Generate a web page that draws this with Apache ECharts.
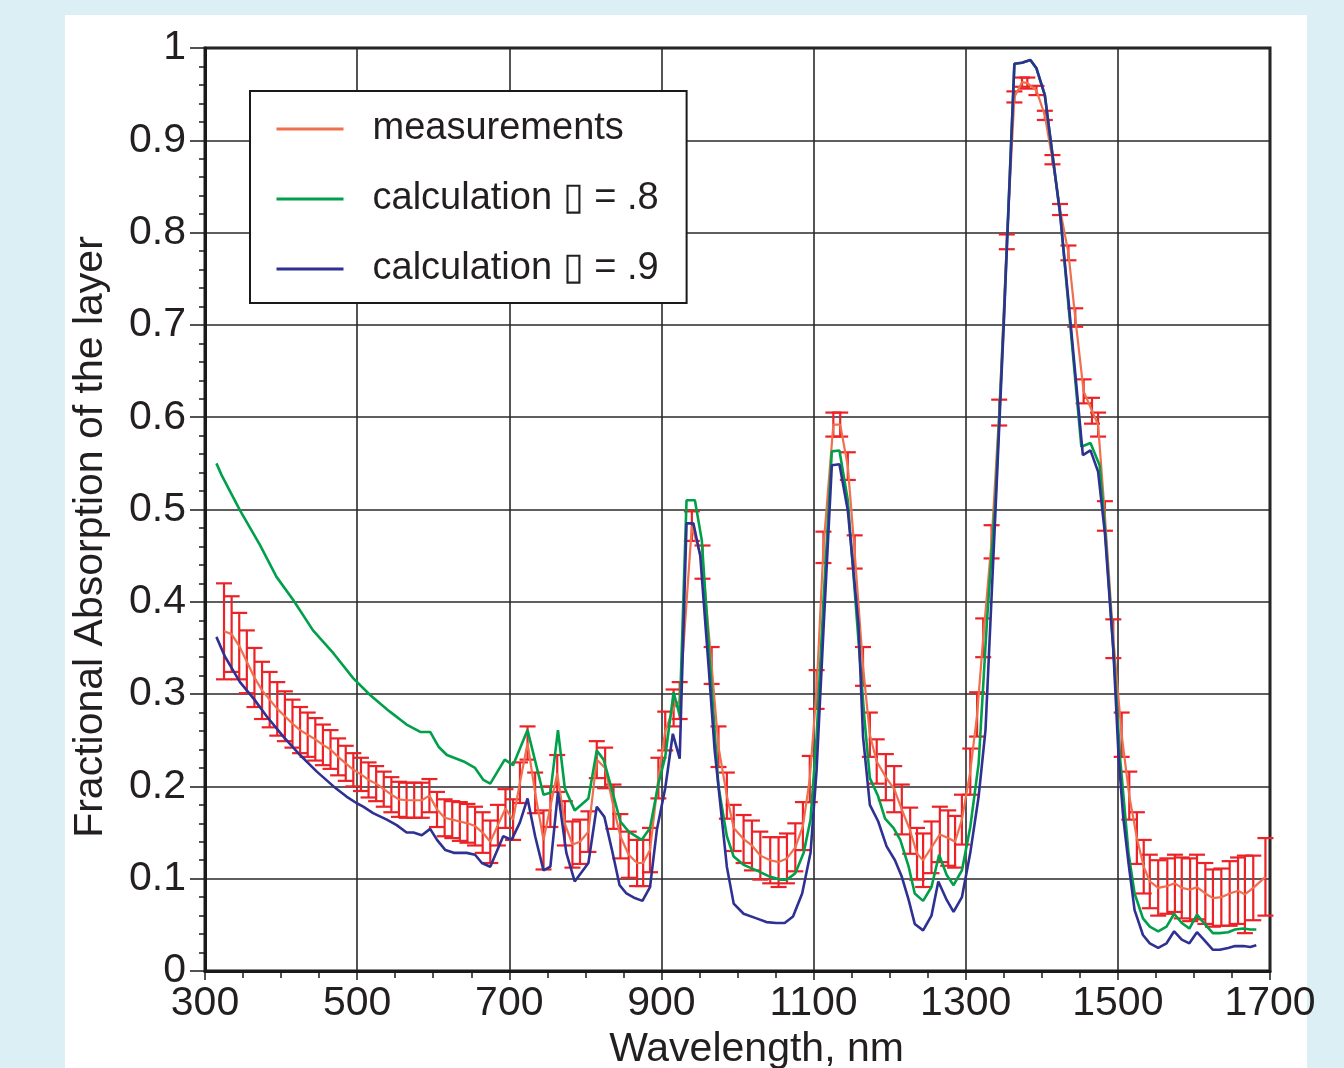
<!DOCTYPE html>
<html>
<head>
<meta charset="utf-8">
<script src="https://cdn.jsdelivr.net/npm/echarts@6/dist/echarts.min.js"></script>
<style>
  html, body { margin: 0; padding: 0; background: #DCEFF5; }
  #panel { position: absolute; left: 65px; top: 15px; width: 1242px; height: 1053px; background: #ffffff; }
  #chart { position: absolute; left: 0; top: 0; width: 1344px; height: 1068px; }
</style>
</head>
<body>
<div id="panel"></div>
<div id="chart"></div>
<script>
// ---- axis settings ----
const xMin = 300, xMax = 1700, xStep = 200;
const yMin = 0, yMax = 1, yStep = 0.1;

// ---- measurements (wavelength nm, mean, half error) ----
const measWl = [
  325,335,345,355,365,375,385,395,405,415,
  425,435,445,455,465,475,485,495,505,515,
  525,535,545,555,565,575,585,595,605,615,
  625,635,645,655,665,675,685,695,705,714,
  724,734,745,754,763,773,783,793,804,815,
  826,837,846,857,868,876,885,896,905,916,
  924,940,954,966,975,986,995,1008,1019,1030,
  1043,1054,1065,1076,1086,1095,1104,1113,1126,1135,
  1145,1154,1165,1174,1183,1195,1206,1216,1227,1236,
  1244,1255,1266,1277,1286,1295,1306,1315,1323,1334,
  1344,1354,1364,1374,1381,1393,1404,1414,1424,1435,
  1444,1455,1466,1474,1483,1494,1505,1515,1525,1534,
  1542,1553,1565,1575,1584,1595,1604,1615,1625,1636,
  1647,1658,1667,1678,1694
];
const measVal = [
  .368,.365,.352,.335,.318,.304,.294,.284,.276,.268,
  .261,.256,.251,.245,.240,.232,.225,.218,.213,.207,
  .203,.197,.191,.186,.185,.185,.185,.190,.175,.166,
  .164,.162,.160,.157,.150,.140,.158,.176,.164,.204,
  .247,.193,.142,.178,.214,.160,.137,.140,.151,.229,
  .220,.178,.146,.126,.117,.117,.131,.209,.260,.285,
  .293,.482,.443,.331,.243,.190,.155,.143,.136,.125,
  .120,.118,.122,.134,.157,.208,.305,.459,.592,.592,
  .547,.454,.330,.256,.227,.210,.197,.175,.152,.127,
  .120,.134,.148,.144,.140,.164,.216,.278,.361,.465,
  .605,.790,.947,.963,.962,.954,.927,.879,.825,.778,
  .708,.628,.607,.592,.493,.360,.256,.190,.144,.113,
  .097,.090,.092,.095,.090,.088,.091,.084,.079,.080,
  .084,.087,.083,.090,.102
];
const measErr = [
  .052,.041,.036,.034,.032,.031,.030,.029,.027,.026,
  .025,.024,.023,.022,.021,.020,.019,.018,.018,.019,
  .019,.019,.019,.019,.019,.019,.019,.018,.019,.020,
  .020,.021,.021,.021,.022,.023,.022,.021,.022,.022,
  .018,.022,.032,.022,.020,.024,.025,.024,.022,.020,
  .022,.024,.024,.025,.025,.025,.024,.022,.021,.020,
  .020,.016,.018,.020,.022,.025,.025,.026,.027,.026,
  .025,.027,.027,.026,.026,.025,.021,.017,.013,.013,
  .015,.018,.021,.024,.024,.025,.025,.027,.025,.028,
  .029,.028,.030,.030,.028,.027,.025,.024,.021,.018,
  .014,.008,.006,.005,.006,.005,.005,.005,.006,.008,
  .010,.013,.014,.013,.016,.021,.024,.026,.028,.029,
  .029,.030,.030,.031,.033,.034,.035,.033,.031,.031,
  .035,.036,.042,.035,.042
];

// ---- calculation alpha = .8 ----
const calc8Wl = [
  315,322,346,372,394,416,442,469,495,517,
  543,565,583,596,607,618,640,655,666,675,
  694,705,714,724,745,754,764,773,786,804,
  815,824,835,846,857,874,885,896,905,916,
  924,933,944,953,964,975,986,995,1008,1025,
  1043,1056,1065,1076,1087,1096,1104,1113,1124,1134,
  1145,1157,1167,1174,1185,1194,1205,1214,1225,1233,
  1244,1255,1265,1275,1284,1295,1306,1317,1328,1339,
  1350,1364,1374,1385,1393,1404,1411,1424,1452,1464,
  1476,1483,1494,1503,1514,1522,1533,1542,1553,1564,
  1574,1584,1594,1604,1614,1625,1634,1645,1654,1665,
  1674,1682
];
const calc8Val = [
  .550,.537,.499,.462,.427,.402,.369,.344,.317,.299,
  .281,.267,.259,.259,.243,.234,.227,.220,.207,.203,
  .229,.223,.241,.261,.191,.193,.261,.198,.174,.187,
  .239,.229,.196,.162,.151,.142,.155,.203,.232,.302,
  .277,.510,.510,.467,.330,.200,.146,.124,.115,.109,
  .102,.099,.099,.106,.128,.164,.254,.400,.563,.564,
  .510,.380,.272,.209,.189,.165,.155,.142,.113,.084,
  .076,.091,.126,.104,.093,.109,.156,.225,.380,.510,
  .705,.983,.984,.987,.978,.949,.904,.821,.568,.572,
  .548,.480,.350,.230,.128,.084,.057,.048,.043,.048,
  .062,.052,.046,.061,.051,.041,.041,.042,.045,.046,
  .045,.045
];

// ---- calculation alpha = .9 ----
const calc9Wl = [
  315,326,346,365,381,403,425,447,469,486,
  499,508,521,539,552,565,574,585,596,605,
  616,627,644,655,664,675,692,703,714,724,
  734,745,754,764,775,786,804,815,825,835,
  845,854,865,875,885,894,905,915,924,933,
  942,951,962,970,986,995,1008,1025,1038,1051,
  1062,1073,1085,1096,1104,1113,1124,1134,1145,1159,
  1165,1174,1185,1196,1207,1216,1225,1233,1244,1255,
  1264,1275,1284,1295,1306,1317,1326,1339,1350,1364,
  1374,1385,1393,1404,1411,1424,1435,1454,1464,1474,
  1483,1494,1501,1507,1514,1522,1533,1542,1553,1564,
  1574,1584,1594,1604,1613,1625,1634,1645,1654,1665,
  1674,1682
];
const calc9Val = [
  .362,.341,.313,.294,.276,.254,.234,.216,.200,.189,
  .182,.178,.171,.164,.158,.150,.150,.147,.154,.142,
  .131,.128,.128,.126,.117,.113,.146,.142,.161,.187,
  .146,.109,.113,.194,.128,.097,.117,.178,.167,.131,
  .093,.084,.079,.076,.091,.153,.198,.257,.230,.485,
  .485,.450,.330,.239,.113,.073,.062,.057,.053,.052,
  .052,.059,.084,.128,.218,.369,.548,.549,.499,.375,
  .254,.180,.162,.135,.120,.102,.077,.051,.044,.060,
  .097,.077,.064,.080,.128,.189,.261,.496,.700,.983,
  .984,.987,.978,.949,.904,.821,.727,.559,.564,.541,
  .474,.348,.232,.167,.117,.066,.039,.030,.025,.030,
  .043,.034,.030,.042,.034,.023,.023,.025,.027,.027,
  .026,.028
];

const seriesNames = ['measurements', 'calculation \u25AF = .8', 'calculation \u25AF = .9'];
const seriesColors = ['#EF6F4E', '#00A04A', '#2E3192'];

const FONT = "'Liberation Sans', Arial, Helvetica, sans-serif";
const TXT = '#231F20';
const zip = (a, b) => a.map((v, i) => [v, b[i]]);

const chart = echarts.init(document.getElementById('chart'), null, { renderer: 'canvas' });

const option = {
  animation: false,
  backgroundColor: 'transparent',
  grid: {
    left: 205, right: 74, top: 48, bottom: 97,
    outerBoundsMode: 'none', containLabel: false,
    show: true, borderColor: '#1a1a1a', borderWidth: 3, backgroundColor: '#ffffff'
  },
  legend: {
    orient: 'vertical', left: 250, top: 91,
    data: seriesNames,
    itemWidth: 67, itemHeight: 14, itemGap: 30,
    padding: [18, 28, 14, 25],
    borderColor: '#1a1a1a', borderWidth: 2, backgroundColor: '#ffffff',
    selectedMode: false,
    itemStyle: { opacity: 0 },
    lineStyle: { width: 3 },
    textStyle: { fontFamily: FONT, fontSize: 38, color: TXT, lineHeight: 40, padding: [0, 0, 0, 24] }
  },
  xAxis: {
    type: 'value', min: xMin, max: xMax, interval: xStep,
    name: 'Wavelength, nm', nameLocation: 'middle', nameGap: 58,
    nameTextStyle: { fontFamily: FONT, fontSize: 41, color: TXT, padding: [0, 0, 0, 38] },
    axisLine: { onZero: false, lineStyle: { color: '#1a1a1a', width: 3 } },
    axisTick: { show: true, inside: false, length: 9, lineStyle: { color: '#1a1a1a', width: 1.5 } },
    minorTick: { show: true, splitNumber: 4, length: 7, lineStyle: { color: '#1a1a1a', width: 1.5 } },
    axisLabel: { fontFamily: FONT, fontSize: 41, color: TXT, margin: 12, formatter: v => String(v) },
    splitLine: { show: true, lineStyle: { color: '#2a2a2a', width: 1.6 } }
  },
  yAxis: {
    type: 'value', min: yMin, max: yMax, interval: yStep,
    name: 'Fractional Absorption of the layer', nameLocation: 'middle', nameGap: 94, nameRotate: 90,
    nameTextStyle: { fontFamily: FONT, fontSize: 41, color: TXT, padding: [0, 55, 0, 0] },
    axisLine: { onZero: false, lineStyle: { color: '#1a1a1a', width: 3 } },
    axisTick: { show: true, inside: false, length: 15, lineStyle: { color: '#1a1a1a', width: 1.5 } },
    minorTick: { show: true, splitNumber: 5, length: 6, lineStyle: { color: '#1a1a1a', width: 1.5 } },
    axisLabel: { fontFamily: FONT, fontSize: 41, color: TXT, margin: 19 },
    splitLine: { show: true, lineStyle: { color: '#2a2a2a', width: 1.6 } }
  },
  series: [
    {
      type: 'custom', name: 'error bars', silent: true, z: 2,
      data: measWl.map((w, i) => [w, measVal[i] - measErr[i], measVal[i] + measErr[i]]),
      encode: { x: 0, y: [1, 2] },
      renderItem: function (params, api) {
        const x = api.value(0);
        const pLo = api.coord([x, api.value(1)]);
        const pHi = api.coord([x, api.value(2)]);
        const hw = 8;
        const st = { stroke: '#EC2227', lineWidth: 2.2 };
        return {
          type: 'group',
          children: [
            { type: 'line', shape: { x1: pLo[0], y1: pLo[1], x2: pHi[0], y2: pHi[1] }, style: st },
            { type: 'line', shape: { x1: pHi[0] - hw, y1: pHi[1], x2: pHi[0] + hw, y2: pHi[1] }, style: st },
            { type: 'line', shape: { x1: pLo[0] - hw, y1: pLo[1], x2: pLo[0] + hw, y2: pLo[1] }, style: st }
          ]
        };
      }
    },
    {
      type: 'line', name: seriesNames[0], data: zip(measWl, measVal), z: 3,
      symbol: 'none', silent: true, color: seriesColors[0],
      lineStyle: { color: seriesColors[0], width: 2.2 }
    },
    {
      type: 'line', name: seriesNames[1], data: zip(calc8Wl, calc8Val), z: 4,
      symbol: 'none', silent: true, color: seriesColors[1],
      lineStyle: { color: seriesColors[1], width: 2.6 }
    },
    {
      type: 'line', name: seriesNames[2], data: zip(calc9Wl, calc9Val), z: 5,
      symbol: 'none', silent: true, color: seriesColors[2],
      lineStyle: { color: seriesColors[2], width: 2.6 }
    }
  ]
};
chart.setOption(option);
</script>
</body>
</html>
